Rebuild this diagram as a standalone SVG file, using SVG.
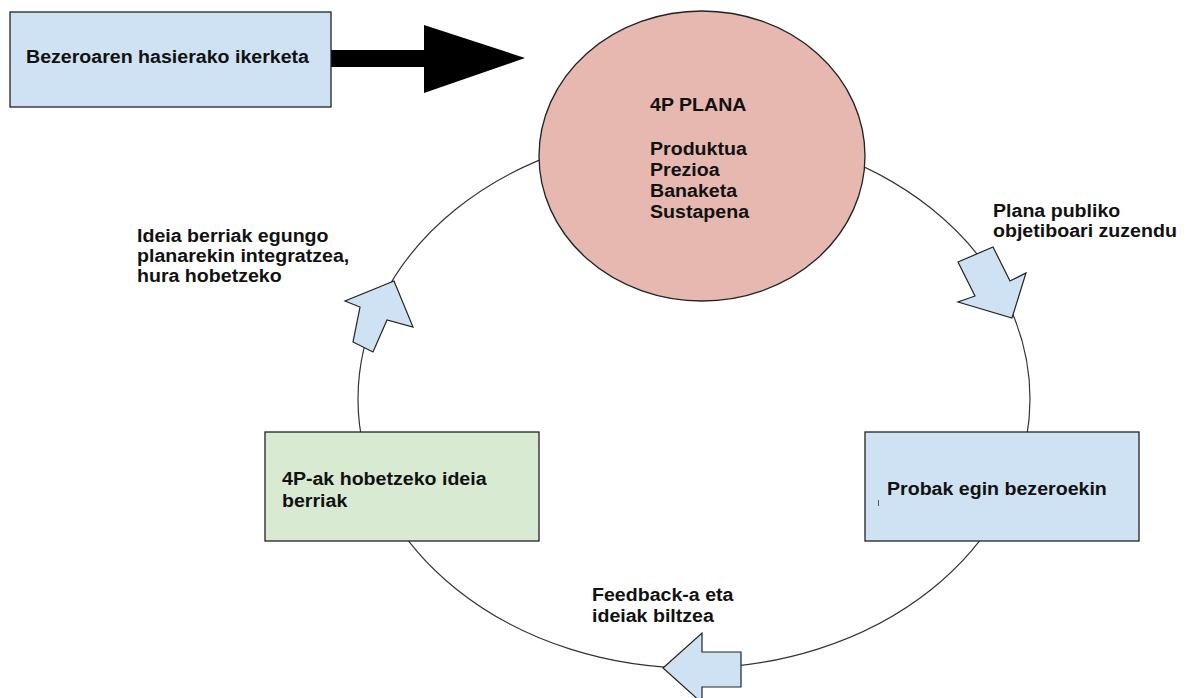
<svg xmlns="http://www.w3.org/2000/svg" width="1187" height="698" viewBox="0 0 1187 698">
  <style>
    .lbl { font-family: "Liberation Sans", Arial, sans-serif; font-weight: bold; font-size: 17.5px; fill: #111; }
    .box { stroke: #222; stroke-width: 1.3; }
    .blue { fill: #cfe2f3; }
    .green { fill: #d9ead3; }
    .pink { fill: #e6b8af; }
    .cycle { fill: none; stroke: #333; stroke-width: 1.2; }
    .block { fill: #cfe2f3; stroke: #222; stroke-width: 1.2; stroke-linejoin: miter; }
  </style>

  <!-- feedback loop behind the shapes -->
  <g id="connectors">
    <ellipse class="cycle" cx="694" cy="399" rx="336" ry="269"/>
    <!-- thick pointer from research box to plan -->
    <polygon fill="#000" points="331,50 424,50 424,25 525,58 424,93 424,67 331,67"/>
  </g>

  <g id="node-research">
    <rect class="box blue" x="10" y="12" width="321" height="95"/>
    <text class="lbl" transform="translate(26,63) scale(1.12,1)">Bezeroaren hasierako ikerketa</text>
  </g>

  <g id="node-plan">
    <ellipse class="box pink" cx="702" cy="156" rx="163" ry="145"/>
    <text class="lbl" transform="translate(650,111) scale(1.12,1)">
      <tspan x="0" y="0">4P PLANA</tspan>
      <tspan x="0" y="44">Produktua</tspan>
      <tspan x="0" y="65">Prezioa</tspan>
      <tspan x="0" y="86">Banaketa</tspan>
      <tspan x="0" y="107">Sustapena</tspan>
    </text>
  </g>

  <g id="node-ideas">
    <rect class="box green" x="265" y="432" width="274" height="109"/>
    <text class="lbl" transform="translate(282,485) scale(1.12,1)">
      <tspan x="0" y="0">4P-ak hobetzeko ideia</tspan>
      <tspan x="0" y="22">berriak</tspan>
    </text>
  </g>

  <g id="node-tests">
    <rect class="box blue" x="865" y="432" width="274" height="109"/>
    <text class="lbl" transform="translate(887,495) scale(1.12,1)">Probak egin bezeroekin</text>
    <line x1="878.5" y1="500" x2="878.5" y2="506" stroke="#555" stroke-width="1"/>
  </g>

  <g id="step-target">
    <polygon class="block" points="958,262 993,247 1010,281 1026,273 1012,318 958,302 975,296"/>
    <text class="lbl" transform="translate(993,217) scale(1.12,1)">
      <tspan x="0" y="0">Plana publiko</tspan>
      <tspan x="0" y="20">objetiboari zuzendu</tspan>
    </text>
  </g>

  <g id="step-feedback">
    <polygon class="block" points="663,668 702,633 702,652 741,652 741,687 702,687 702,703"/>
    <text class="lbl" transform="translate(592,601) scale(1.12,1)">
      <tspan x="0" y="0">Feedback-a eta</tspan>
      <tspan x="0" y="21">ideiak biltzea</tspan>
    </text>
  </g>

  <g id="step-integrate">
    <polygon class="block" points="394,281 413,327 387,320 373,352 353,342 360,307 345,301"/>
    <text class="lbl" transform="translate(137,242) scale(1.12,1)">
      <tspan x="0" y="0">Ideia berriak egungo</tspan>
      <tspan x="0" y="20">planarekin integratzea,</tspan>
      <tspan x="0" y="40">hura hobetzeko</tspan>
    </text>
  </g>
</svg>
